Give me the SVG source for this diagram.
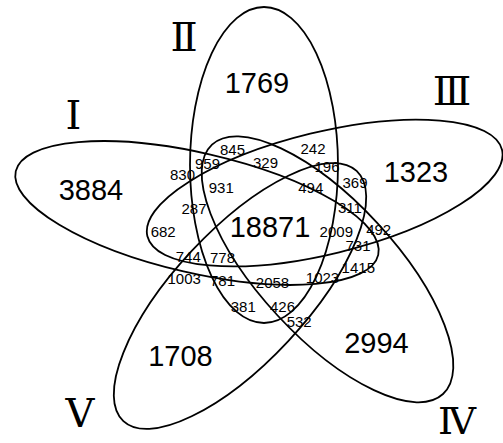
<svg xmlns="http://www.w3.org/2000/svg" width="503" height="443" viewBox="0 0 503 443">
<style>
.set{fill:none;stroke:#000;stroke-width:1.8}
.big{font-family:"Liberation Sans",Arial,sans-serif;font-size:29px;text-anchor:middle;fill:#000}
.sm{font-family:"Liberation Sans",Arial,sans-serif;font-size:15px;text-anchor:middle;fill:#000}
.rn{font-family:"Liberation Serif","DejaVu Serif","Noto Sans CJK SC",serif;font-size:40px;text-anchor:middle;fill:#000}
</style>
<rect width="503" height="443" fill="#fff"/>
<g id="connectors"></g>
<g id="set-I">
<ellipse class="set" cx="197" cy="213" rx="186" ry="60" transform="rotate(13 197 213)"/>
<text class="rn" x="73.5" y="129">Ⅰ</text>
</g>
<g id="set-II">
<ellipse class="set" cx="264" cy="165" rx="74" ry="158"/>
<text class="rn" x="184" y="50.5">Ⅱ</text>
</g>
<g id="set-III">
<ellipse class="set" cx="324.7" cy="193" rx="182.5" ry="61" transform="rotate(-13.7 324.7 193)"/>
<text class="rn" x="452" y="105">Ⅲ</text>
</g>
<g id="set-IV">
<ellipse class="set" cx="327.5" cy="269.3" rx="170" ry="68" transform="rotate(47.2 327.5 269.3)"/>
<text class="rn" x="457" y="434" style="font-size:38px">Ⅳ</text>
</g>
<g id="set-V">
<ellipse class="set" cx="240" cy="296" rx="171" ry="66" transform="rotate(-47 240 296)"/>
<text class="rn" x="80" y="426.5">Ⅴ</text>
</g>
<g id="counts">
<text class="big" x="257" y="93">1769</text>
<text class="big" x="91" y="200">3884</text>
<text class="big" x="416" y="181.5">1323</text>
<text class="big" x="270" y="236.5">18871</text>
<text class="big" x="180.5" y="366">1708</text>
<text class="big" x="376.5" y="353">2994</text>
<text class="sm" x="232.5" y="155">845</text>
<text class="sm" x="313" y="154">242</text>
<text class="sm" x="207.5" y="169.3">959</text>
<text class="sm" x="265.5" y="168.3">329</text>
<text class="sm" x="327" y="171.7">196</text>
<text class="sm" x="182.5" y="180">830</text>
<text class="sm" x="221.3" y="192.7">931</text>
<text class="sm" x="310.8" y="192.7">494</text>
<text class="sm" x="355" y="188.3">369</text>
<text class="sm" x="194" y="214.3">287</text>
<text class="sm" x="350" y="213.3">311</text>
<text class="sm" x="163.2" y="237.3">682</text>
<text class="sm" x="336.3" y="236.7">2009</text>
<text class="sm" x="378.7" y="235">492</text>
<text class="sm" x="358" y="250.7">731</text>
<text class="sm" x="188.3" y="261.7">744</text>
<text class="sm" x="222.5" y="263.3">778</text>
<text class="sm" x="358.3" y="273.3">1415</text>
<text class="sm" x="184.2" y="283.5">1003</text>
<text class="sm" x="222.5" y="286">781</text>
<text class="sm" x="272.5" y="288.3">2058</text>
<text class="sm" x="322.5" y="283.3">1023</text>
<text class="sm" x="243.3" y="311.7">381</text>
<text class="sm" x="282.5" y="311.7">426</text>
<text class="sm" x="299.2" y="326.7">532</text>
</g>
</svg>
